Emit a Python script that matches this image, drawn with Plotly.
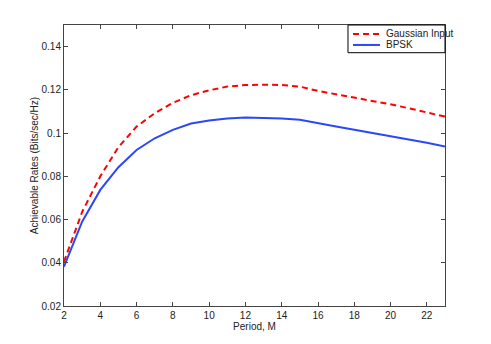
import plotly.graph_objects as go

period_m = list(range(2, 24))
gaussian_input = [0.0405, 0.0635, 0.0800, 0.0935, 0.1030, 0.1092, 0.1140, 0.1175,
                  0.1198, 0.1215, 0.1222, 0.1224, 0.1222, 0.1215, 0.1195, 0.1180,
                  0.1165, 0.1148, 0.1133, 0.1115, 0.1095, 0.1076]
bpsk = [0.0382, 0.0590, 0.0737, 0.0842, 0.0922, 0.0976, 0.1015, 0.1044,
        0.1058, 0.1067, 0.1072, 0.1071, 0.1068, 0.1062, 0.1045, 0.1030,
        0.1015, 0.1000, 0.0987, 0.0970, 0.0955, 0.0938]
x_ticks = list(range(2, 24, 2))
y_ticks = [0.02, 0.04, 0.06, 0.08, 0.1, 0.12, 0.14]
y_tick_text = ["0.02", "0.04", "0.06", "0.08", "0.1", "0.12", "0.14"]
series_names = ["Gaussian Input", "BPSK"]
series_colors = ["#ff0000", "#2a48f5"]
series_dash = ["6px,4px", "solid"]

fig = go.Figure()
for name, ys, col, dash in zip(series_names, [gaussian_input, bpsk], series_colors, series_dash):
    fig.add_trace(go.Scatter(x=period_m, y=ys, mode="lines", name=name,
                             line=dict(color=col, width=2, dash=dash), showlegend=False))

axis_common = dict(showline=True, linecolor="#444", linewidth=1, mirror="ticks",
                   ticks="inside", ticklen=4, tickcolor="#444", showgrid=False,
                   zeroline=False, tickfont=dict(family="Liberation Sans, Arial", size=10, color="#222"))

# Compact legend drawn in paper coordinates (matches the reference's tight legend box)
shapes = [dict(type="rect", xref="paper", yref="paper", x0=0.7454, x1=1.0, y0=0.9014, y1=1.0,
               line=dict(color="black", width=1), fillcolor="white", layer="above")]
annotations = []
legend_y = [0.968, 0.929]
for name, col, dash, ly in zip(series_names, series_colors, series_dash, legend_y):
    shapes.append(dict(type="line", xref="paper", yref="paper", x0=0.7585, x1=0.8294, y0=ly, y1=ly,
                       line=dict(color=col, width=2, dash=dash), layer="above"))
    annotations.append(dict(xref="paper", yref="paper", x=0.8399, y=ly, text=name, showarrow=False,
                            xanchor="left", yanchor="middle", font=dict(size=10, color="#222")))

fig.update_layout(
    width=491, height=344,
    margin=dict(l=56, r=54, t=17, b=46, autoexpand=False),
    paper_bgcolor="white", plot_bgcolor="white",
    font=dict(family="Liberation Sans, Arial", size=10, color="#222"),
    xaxis=dict(range=[2, 23], tickvals=x_ticks,
               title=dict(text="Period, M", standoff=1, font=dict(size=10)), **axis_common),
    yaxis=dict(range=[0.02, 0.15], tickvals=y_ticks, ticktext=y_tick_text,
               title=dict(text="Achievable Rates (Bits/sec/Hz)", standoff=1, font=dict(size=10)), **axis_common),
    shapes=shapes, annotations=annotations,
    showlegend=False,
)

fig.write_html("out.html")
